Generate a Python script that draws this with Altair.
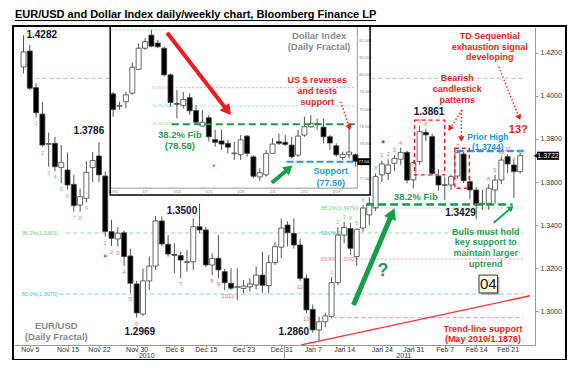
import math
import altair as alt
import pandas as pd

# ---------------------------------------------------------------- data
TITLE = "EUR/USD and Dollar Index daily/weekly chart, Bloomberg Finance LP"

# EUR/USD daily candles, trading-day index 0 = 4 Nov 2010 ... 79 = 23 Feb 2011
eur_open = [1.4135, 1.4209, 1.4039, 1.3916, 1.3775, 1.3780, 1.3667, 1.3656, 1.3589, 1.3493,
            1.3524, 1.3667, 1.3721, 1.3628, 1.3369, 1.3335, 1.3364, 1.3256, 1.3126, 1.2986,
            1.3140, 1.3209, 1.3419, 1.3310, 1.3263, 1.3258, 1.3226, 1.3229, 1.3392, 1.3377,
            1.3214, 1.3245, 1.3183, 1.3129, 1.3110, 1.3105, 1.3112, 1.3121, 1.3167, 1.3118,
            1.3225, 1.3297, 1.3400, 1.3361, 1.3307, 1.3152, 1.3008, 1.2912, 1.2950, 1.2975,
            1.3132, 1.3353, 1.3384, 1.3253, 1.3386, 1.3447, 1.3480, 1.3633, 1.3640, 1.3687,
            1.3706, 1.3738, 1.3610, 1.3695, 1.3831, 1.3811, 1.3628, 1.3584, 1.3586, 1.3628,
            1.3730, 1.3601, 1.3563, 1.3496, 1.3501, 1.3563, 1.3609, 1.3718, 1.3679, 1.3648]
eur_high = [1.4282, 1.4237, 1.4060, 1.3974, 1.3830, 1.3810, 1.3772, 1.3737, 1.3633, 1.3569,
            1.3698, 1.3740, 1.3786, 1.3650, 1.3425, 1.3390, 1.3375, 1.3290, 1.3140, 1.3197,
            1.3253, 1.3442, 1.3440, 1.3353, 1.3315, 1.3276, 1.3284, 1.3431, 1.3500, 1.3392,
            1.3268, 1.3353, 1.3195, 1.3199, 1.3199, 1.3144, 1.3152, 1.3206, 1.3276, 1.3260,
            1.3322, 1.3430, 1.3418, 1.3431, 1.3335, 1.3170, 1.3030, 1.2974, 1.2992, 1.3157,
            1.3390, 1.3415, 1.3410, 1.3385, 1.3493, 1.3530, 1.3640, 1.3700, 1.3705, 1.3725,
            1.3760, 1.3745, 1.3700, 1.3861, 1.3848, 1.3825, 1.3660, 1.3625, 1.3635, 1.3744,
            1.3740, 1.3625, 1.3575, 1.3563, 1.3590, 1.3633, 1.3718, 1.3730, 1.3705, 1.3735]
eur_low = [1.4105, 1.4028, 1.3900, 1.3765, 1.3672, 1.3650, 1.3595, 1.3565, 1.3462, 1.3462,
           1.3505, 1.3600, 1.3600, 1.3346, 1.3302, 1.3300, 1.3210, 1.3084, 1.2969, 1.2977,
           1.3098, 1.3191, 1.3300, 1.3253, 1.3175, 1.3152, 1.3183, 1.3191, 1.3361, 1.3204,
           1.3167, 1.3152, 1.3098, 1.3098, 1.3051, 1.3082, 1.3090, 1.3100, 1.3084, 1.3084,
           1.3214, 1.3245, 1.3300, 1.3290, 1.3140, 1.2990, 1.2900, 1.2860, 1.2925, 1.2966,
           1.3120, 1.3315, 1.3262, 1.3209, 1.3369, 1.3400, 1.3465, 1.3600, 1.3610, 1.3650,
           1.3680, 1.3594, 1.3570, 1.3680, 1.3790, 1.3630, 1.3560, 1.3516, 1.3563, 1.3615,
           1.3595, 1.3520, 1.3429, 1.3470, 1.3470, 1.3500, 1.3590, 1.3640, 1.3526, 1.3640]
eur_close = [1.4205, 1.4036, 1.3922, 1.3772, 1.3779, 1.3671, 1.3690, 1.3586, 1.3490, 1.3532,
             1.3645, 1.3700, 1.3633, 1.3370, 1.3338, 1.3362, 1.3253, 1.3129, 1.2991, 1.3140,
             1.3209, 1.3419, 1.3312, 1.3265, 1.3259, 1.3237, 1.3229, 1.3392, 1.3377, 1.3214,
             1.3245, 1.3191, 1.3132, 1.3106, 1.3113, 1.3116, 1.3126, 1.3167, 1.3120, 1.3225,
             1.3299, 1.3386, 1.3364, 1.3307, 1.3152, 1.3005, 1.2912, 1.2950, 1.2977, 1.3132,
             1.3353, 1.3389, 1.3292, 1.3380, 1.3479, 1.3501, 1.3625, 1.3684, 1.3679, 1.3710,
             1.3738, 1.3609, 1.3690, 1.3834, 1.3819, 1.3640, 1.3586, 1.3588, 1.3625, 1.3736,
             1.3606, 1.3563, 1.3493, 1.3501, 1.3571, 1.3609, 1.3702, 1.3684, 1.3648, 1.3722]

# Dollar Index daily candles (inset), index 0 = 31 Dec 2010 ... 38 = 23 Feb 2011
dxy_open = [79.46, 79.10, 79.23, 79.48, 80.17, 80.78, 81.16, 80.93, 80.78, 80.01,
            79.18, 79.13, 79.35, 78.98, 78.53, 78.77, 78.14, 78.10, 78.03, 77.73,
            77.70, 78.24, 77.64, 77.06, 77.12, 77.74, 78.08, 78.06, 77.98, 77.69,
            78.27, 78.51, 78.60, 78.50, 78.22, 77.96, 77.62, 77.70, 77.70]
dxy_high = [79.52, 79.23, 79.52, 80.36, 80.92, 81.07, 81.31, 81.02, 80.82, 80.05,
            79.57, 79.52, 79.48, 79.14, 78.99, 78.85, 78.42, 78.42, 78.13, 78.08,
            78.27, 78.27, 77.69, 77.31, 77.84, 78.18, 78.32, 78.27, 78.22, 78.42,
            78.80, 78.85, 78.75, 78.75, 78.27, 78.03, 77.79, 78.61, 77.74]
dxy_low = [78.80, 79.00, 79.04, 79.43, 80.15, 80.73, 80.82, 80.78, 79.96, 79.09,
           78.75, 79.04, 78.85, 78.56, 78.51, 78.08, 77.93, 77.84, 77.74, 77.55,
           77.55, 77.64, 77.02, 76.95, 77.07, 77.74, 77.98, 77.95, 77.60, 77.64,
           78.22, 78.47, 78.42, 78.03, 77.84, 77.64, 77.55, 77.60, 77.36]
dxy_close = [79.01, 79.12, 79.43, 80.23, 80.78, 80.97, 80.84, 80.82, 80.01, 79.21,
             79.16, 79.30, 78.97, 78.64, 78.64, 78.22, 78.06, 78.01, 77.92, 77.75,
             78.13, 77.74, 77.08, 77.18, 77.74, 78.01, 78.03, 78.00, 77.64, 78.24,
             78.51, 78.60, 78.58, 78.22, 78.04, 77.70, 77.71, 77.78, 77.51]

# axes
x_tick_days = [1, 7, 12, 18, 24, 29, 35, 41, 46, 51, 57, 62, 67, 72, 77]
x_tick_labels = ["Nov 5", "Nov 15", "Nov 22", "Nov 30", "Dec 8", "Dec 15", "Dec 23",
                 "Dec 31", "Jan 7", "Jan 14", "Jan 24", "Jan 31", "Feb 7", "Feb 14", "Feb 21"]
y_tick_values = [1.30, 1.32, 1.34, 1.36, 1.38, 1.40, 1.42]
year_days = [19.6, 60.5]
year_labels = ["2010", "2011"]
year_break_day = 41.5
last_price = 1.3722

dxy_tick_values = [77.0, 77.5, 78.0, 78.5, 79.0, 79.5, 80.0, 80.5, 81.0]
dxy_date_days = [0, 5, 10, 15, 20, 25, 30, 35]
dxy_date_labels = ["12/31", "1/7", "1/14", "1/21", "1/28", "2/4", "2/11", "2/18"]

# swing-point labels
swing_days = [2.9, 10.4, 18.5, 25.2, 43.0, 64.5, 69.5]
swing_values = [1.4282, 1.3786, 1.2969, 1.3500, 1.2860, 1.3861, 1.3429]
swing_label_at = [1.4284, 1.3837, 1.2904, 1.3467, 1.2904, 1.3924, 1.3454]

# TD sequential counts
td_buy_setup_days = [2, 3, 4, 5, 6, 7, 8, 9, 10]
td_buy_count_days = [13, 14, 15, 16, 17, 18, 25, 30, 31, 32, 33, 44, 45]
td_sell_setup_days = [49, 50, 51, 52, 53, 54, 55, 56]
td_sell_count_days = [57, 58, 59, 60, 63, 64, 69, 74, 75, 76, 77]
td_sell_setup2_days = [76, 78, 79]
td_sell_setup2_labels = ["3", "4", "5"]

# levels
td_risk_level = 1.4082
fib_long_levels = [1.3363, 1.3079]          # of May 2010 - Nov 2010 rally
fib_long_names = ["38.2%", "50.0%"]
fib_short_levels = [1.3479, 1.3361, 1.3242]  # of Jan - Feb 2011 rally
fib_short_names = ["38.2%", "50.0%", "61.8%"]
low_level = 1.2969
support_level = 1.3495
prior_high = 1.3744
trend_days = [44.2, 80.56]
trend_values = [1.2842, 1.3071]

dxy_fib_levels = [79.64, 79.11, 78.58]
dxy_fib_names = ["61.8%", "50.0%", "38.2%"]
dxy_top_level = 81.31
dxy_support = 77.50

# ---------------------------------------------------------------- layout
W, H = 521, 318
X_MIN, X_MAX = -0.718, 80.56
Y_MIN, Y_MAX = 1.28419, 1.43209
J_MIN, J_MAX = -14.769, 65.385
P_MIN, P_MAX = 72.202, 81.393
SX, SY = W / (X_MAX - X_MIN), H / (Y_MAX - Y_MIN)
SJ, SP = W / (J_MAX - J_MIN), H / (P_MAX - P_MIN)

FONT = "Liberation Sans"
RED = "#ee1c1c"
GREEN = "#1f9e57"
AGREEN = "#12a048"
BLUE = "#2496e6"
GRAY = "#8a8a8a"
NAVY = "#14142c"

XS = alt.Scale(domain=[X_MIN, X_MAX], nice=False, zero=False)
YS = alt.Scale(domain=[Y_MIN, Y_MAX], nice=False, zero=False)
JS = alt.Scale(domain=[J_MIN, J_MAX], nice=False, zero=False)
PS = alt.Scale(domain=[P_MIN, P_MAX], nice=False, zero=False)

label_expr = ("[" + ",".join(f"'{s}'" for s in x_tick_labels) + "][indexof(["
              + ",".join(str(d) for d in x_tick_days) + "], datum.value)]")
AXX = alt.Axis(values=x_tick_days, labelExpr=label_expr, title=None, grid=False,
               labelFont=FONT, labelFontSize=7, labelColor="#333333", labelPadding=-2,
               tickSize=2, tickColor="#999999", domainColor="#999999",
               labelOverlap=False, labelFlush=False, labelBound=False)
AXY = alt.Axis(values=y_tick_values, labelExpr="format(datum.value, '.4f')", title=None,
               grid=False, orient="right", labelFont=FONT, labelFontSize=7,
               labelColor="#333333", labelPadding=2, tickSize=3, tickColor="#999999",
               domainColor="#999999", labelOverlap=False, labelFlush=False)


def MX(f):
    return alt.X(f"{f}:Q", scale=XS, axis=AXX)


def MY(f):
    return alt.Y(f"{f}:Q", scale=YS, axis=AXY)


def IX(f):
    return alt.X(f"{f}:Q", scale=JS, axis=None)


def IY(f):
    return alt.Y(f"{f}:Q", scale=PS, axis=None)


def candles(o, h, l, c, X, Y):
    df = pd.DataFrame({"d": list(range(len(o))), "o": o, "h": h, "l": l, "c": c})
    df["fill"] = ["#ffffff" if cc >= oo else "#000000" for oo, cc in zip(o, c)]
    wick = alt.Chart(df).mark_rule(color="#555555", strokeWidth=1).encode(
        x=X("d"), y=Y("l"), y2="h")
    body = alt.Chart(df).mark_bar(size=5, stroke="#444444", strokeWidth=0.8).encode(
        x=X("d"), y=Y("o"), y2="c", fill=alt.Fill("fill:N", scale=None))
    return [wick, body]


def hseg(level, d0, d1, X, Y, color, width, dash=None):
    df = pd.DataFrame({"p": [level], "a": [d0], "b": [d1]})
    kw = dict(color=color, strokeWidth=width)
    if dash:
        kw["strokeDash"] = dash
    return alt.Chart(df).mark_rule(**kw).encode(x=X("a"), x2="b", y=Y("p"))


def box(d0, d1, p0, p1, X, Y, **style):
    df = pd.DataFrame({"a": [d0], "b": [d1], "c": [p0], "e": [p1]})
    return alt.Chart(df).mark_rect(**style).encode(x=X("a"), x2="b", y=Y("c"), y2="e")


def arrow(tail, tip, X, Y, sx, sy, color, width, head, dash=None):
    dxp = (tip[0] - tail[0]) * sx
    dyp = -(tip[1] - tail[1]) * sy
    L = math.hypot(dxp, dyp)
    ux, uy = dxp / L, dyp / L
    back = math.sqrt(head) * 0.42
    cx = tip[0] - ux * back / sx
    cy = tip[1] + uy * back / sy
    ang = math.degrees(math.atan2(dxp, -dyp)) % 360
    ldf = pd.DataFrame({"a": [tail[0], cx], "b": [tail[1], cy], "o": [0, 1]})
    kw = dict(color=color, strokeWidth=width)
    if dash:
        kw["strokeDash"] = dash
    line = alt.Chart(ldf).mark_line(**kw).encode(x=X("a"), y=Y("b"), order="o:Q")
    hdf = pd.DataFrame({"a": [cx], "b": [cy]})
    hd = alt.Chart(hdf).mark_point(shape="triangle-up", filled=True, color=color,
                                    size=head, angle=ang, opacity=1).encode(x=X("a"), y=Y("b"))
    return [line, hd]


def notes(rows, X, Y, sy, lh=11, weight="bold"):
    # rows give the centre of each text block; vega anchors the first line,
    # so move the anchor up by half of the extra lines
    fixed = []
    for t, a, b, col, fs in rows:
        n = t.count("\n")
        fixed.append((t, a, b + n * lh / 2 / sy, col, fs))
    df = pd.DataFrame(fixed, columns=["t", "a", "b", "col", "fs"])
    return alt.Chart(df).mark_text(font=FONT, fontWeight=weight, lineBreak="\n",
                                   lineHeight=lh, align="center", baseline="middle").encode(
        x=X("a"), y=Y("b"), text="t:N",
        color=alt.Color("col:N", scale=None), size=alt.Size("fs:Q", scale=None))


def small_labels(days, texts, values, X, Y, color, fs, dy=0, align="center"):
    df = pd.DataFrame({"a": days, "b": values, "t": texts})
    return alt.Chart(df).mark_text(font=FONT, fontSize=fs, color=color, dy=dy,
                                   align=align, baseline="middle").encode(
        x=X("a"), y=Y("b"), text="t:N")


# ---------------------------------------------------------------- main chart
main_layers = []
main_layers.append(hseg(td_risk_level, 1.9, 79.3, MX, MY, "#8fe08f", 1, [4, 3]))
main_layers.append(hseg(fib_long_levels[0], 6.8, 79.5, MX, MY, "#8fe08f", 1, [4, 3]))
main_layers.append(hseg(fib_long_levels[1], 5.7, 79.5, MX, MY, "#6adada", 1, [4, 3]))
main_layers.append(hseg(fib_short_levels[0], 53.0, 79.5, MX, MY, "#8fe08f", 1, [2, 2]))
main_layers.append(hseg(fib_short_levels[2], 53.0, 79.5, MX, MY, "#ff8fbf", 1, [2, 2]))
main_layers.append(hseg(low_level, 49.3, 79.5, MX, MY, "#ff8a8a", 1, [4, 3]))
trend_df = pd.DataFrame({"a": trend_days, "b": trend_values})
main_layers.append(alt.Chart(trend_df).mark_line(color="#ff3030", strokeWidth=1.3).encode(
    x=MX("a"), y=MY("b")))

fib_lbl_days = [-0.3, -0.3, 47.3, 47.3, 47.3]
fib_lbl_vals = fib_long_levels + fib_short_levels
fib_lbl_txt = [f"{n}({v:.4f})" for n, v in zip(fib_long_names + fib_short_names, fib_lbl_vals)]
fib_cols = ["#6ccf6c", "#3fc6c6", "#6ccf6c", "#3fc6c6", "#ff72aa"]
for d, v, t, col in zip(fib_lbl_days, fib_lbl_vals, fib_lbl_txt, fib_cols):
    main_layers.append(small_labels([d], [t], [v], MX, MY, col, 5.5, align="left"))

main_layers += candles(eur_open, eur_high, eur_low, eur_close, MX, MY)

main_layers.append(hseg(support_level, 54.5, 77.8, MX, MY, "#1a9a4a", 2.5, [8, 4]))
main_layers.append(hseg(prior_high, 68.9, 79.8, MX, MY, "#1e9be9", 2.5, [7, 3]))
main_layers.append(box(62.2, 67.0, 1.3633, 1.3888, MX, MY, fillOpacity=0, stroke=RED,
                       strokeWidth=1.4, strokeDash=[4, 3]))
main_layers.append(box(68.6, 70.9, 1.3571, 1.3757, MX, MY, fillOpacity=0, stroke=RED,
                       strokeWidth=1.4, strokeDash=[4, 3]))

# TD counts
main_layers.append(small_labels(td_buy_setup_days, [str(k + 1) for k in range(9)],
                                [eur_low[d] for d in td_buy_setup_days], MX, MY, "#6fd86f", 6, dy=6))
main_layers.append(small_labels(td_buy_count_days, [str(k + 1) for k in range(13)],
                                [eur_low[d] for d in td_buy_count_days], MX, MY, "#ff6a6a", 6, dy=6))
main_layers.append(small_labels(td_sell_setup_days, [str(k + 1) for k in range(8)],
                                [eur_high[d] for d in td_sell_setup_days], MX, MY, "#6fd86f", 6, dy=-5))
main_layers.append(small_labels(td_sell_count_days, [str(k + 1) for k in range(11)],
                                [eur_high[d] for d in td_sell_count_days], MX, MY, "#ff6a6a", 6, dy=-5))
main_layers.append(small_labels(td_sell_setup2_days, td_sell_setup2_labels,
                                [eur_high[d] for d in td_sell_setup2_days], MX, MY, "#6fd86f", 6, dy=0))

dots = pd.DataFrame({"a": [57.2, 13.0], "b": [1.3787, 1.3256], "col": ["#ee2222", "#22cc22"]})
main_layers.append(alt.Chart(dots).mark_point(filled=True, size=10, opacity=1).encode(
    x=MX("a"), y=MY("b"), color=alt.Color("col:N", scale=None)))

# swing values
sw = pd.DataFrame({"a": swing_days, "b": swing_label_at,
                   "t": [f"{v:.4f}" for v in swing_values]})
main_layers.append(alt.Chart(sw).mark_text(font=FONT, fontWeight="bold", fontSize=10,
                                           color=NAVY, baseline="middle").encode(
    x=MX("a"), y=MY("b"), text="t:N"))

main_notes = [
    ("TD Sequential\nexhaustion signal\ndeveloping", 74.17, 1.42293, RED, 9),
    ("Bearish\ncandlestick\npatterns", 69.0, 1.40326, RED, 9),
    ("13?", 78.7, 1.3842, RED, 11),
    ("Prior High\n(1.3744)", 73.85, 1.3786, BLUE, 8.5),
    ("38.2% Fib", 62.39, 1.35302, GREEN, 9.5),
    ("Bulls must hold\nkey support to\nmaintain larger\nuptrend", 73.54, 1.32942, GREEN, 9),
    ("?", 57.16, 1.3186, GREEN, 18),
    ("Trend-line support\n(May 2010/1.1876)", 73.07, 1.2893, RED, 9),
    ("EUR/USD\n(Daily Fractal)", 5.21, 1.29047, GRAY, 9.5),
]
main_layers.append(notes(main_notes, MX, MY, SY, lh=10.7))

main_layers += arrow((52.48, 1.30279), (58.99, 1.34777), MX, MY, SX, SY, AGREEN, 5, 170)
main_layers += arrow((74.79, 1.34107), (77.91, 1.34884), MX, MY, SX, SY, AGREEN, 1.8, 45)
main_layers += arrow((75.57, 1.41363), (79.0, 1.38884), MX, MY, SX, SY, RED, 1.4, 40, [1.5, 2])
main_layers += arrow((69.64, 1.39349), (69.64, 1.37874), MX, MY, SX, SY, RED, 1.4, 40, [1.5, 2])
main_layers += arrow((69.8, 1.3935), (67.57, 1.38386), MX, MY, SX, SY, RED, 1.4, 40, [1.5, 2])

# "04" box
main_layers.append(box(72.76, 75.71, 1.3075, 1.3158, MX, MY, color="#b0b0b0"))
main_layers.append(box(72.45, 75.4, 1.3084, 1.3167, MX, MY, fill="#ffffe4", stroke="#333333",
                       strokeWidth=1))
main_layers.append(notes([("04", 73.92, 1.3125, "#111111", 15)], MX, MY, SY, weight="normal"))

# year labels / separator
yl = pd.DataFrame({"a": year_days, "t": year_labels})
main_layers.append(alt.Chart(yl).mark_text(font=FONT, fontSize=7, color="#333333",
                                           baseline="middle").encode(
    x=MX("a"), y=alt.value(329.3), text="t:N"))
yb = pd.DataFrame({"a": [year_break_day]})
main_layers.append(alt.Chart(yb).mark_rule(color="#999999", strokeWidth=1).encode(
    x=MX("a"), y=alt.value(318), y2=alt.value(332)))

# last price tag
tag = pd.DataFrame({"p": [last_price], "hi": [last_price + 0.0019],
                    "lo": [last_price - 0.0019], "t": [f"{last_price:.4f}"]})
main_layers.append(alt.Chart(tag).mark_rect(color="#000000").encode(
    x=alt.value(523), x2=alt.value(545), y=MY("hi"), y2="lo"))
main_layers.append(alt.Chart(tag).mark_point(shape="triangle-left", filled=True,
                                             color="#000000", size=28, opacity=1).encode(
    x=alt.value(522), y=MY("p")))
main_layers.append(alt.Chart(tag).mark_text(font=FONT, fontSize=7, color="#ffffff",
                                            baseline="middle").encode(
    x=alt.value(534), y=MY("p"), text="t:N"))

main = alt.layer(*main_layers)

# ---------------------------------------------------------------- inset (Dollar Index)
inset_layers = []
inset_layers.append(box(-0.46, 40.3, 76.538, 81.42, IX, IY, fill="#ffffff"))
inset_layers.append(hseg(dxy_top_level, -0.4, 8.15, IX, IY, "#8fe08f", 1, [2, 2]))
inset_layers.append(hseg(dxy_fib_levels[0], 8.6, 38.0, IX, IY, "#ff9fc8", 1, [2, 2]))
inset_layers.append(hseg(dxy_fib_levels[1], 8.6, 38.0, IX, IY, "#8ae4ef", 1, [2, 2]))
for v, n, col in zip(dxy_fib_levels, dxy_fib_names, ["#ff8fbf", "#6adada", "#7fd67f"]):
    inset_layers.append(small_labels([6.15], [f"{n}({v:.2f})"], [v], IX, IY, col, 3.5,
                                     align="left"))
# inset axes
inset_layers.append(hseg(76.735, -0.46, 38.3, IX, IY, "#9a9a9a", 1))
ax_df = pd.DataFrame({"a": [38.3], "p0": [76.735], "p1": [P_MAX]})
inset_layers.append(alt.Chart(ax_df).mark_rule(color="#9a9a9a", strokeWidth=1).encode(
    x=IX("a"), y=IY("p0"), y2="p1"))
inset_layers.append(small_labels([38.6] * len(dxy_tick_values),
                                 [f"{v:.3f}" for v in dxy_tick_values], dxy_tick_values,
                                 IX, IY, "#888888", 4, align="left"))
inset_layers.append(small_labels(dxy_date_days, dxy_date_labels, [76.62] * len(dxy_date_days),
                                 IX, IY, "#888888", 4))

inset_layers += candles(dxy_open, dxy_high, dxy_low, dxy_close, IX, IY)

inset_layers.append(hseg(dxy_fib_levels[2], 9.2, 38.0, IX, IY, "#1a9a4a", 2, [7, 4]))
inset_layers.append(hseg(dxy_support, 27.2, 38.0, IX, IY, "#1e9be9", 2, [7, 3]))
idot = pd.DataFrame({"a": [15.8], "b": [77.38]})
inset_layers.append(alt.Chart(idot).mark_point(filled=True, size=6, color="#44cc44",
                                               opacity=1).encode(x=IX("a"), y=IY("b")))

itag = pd.DataFrame({"hi": [dxy_support + 0.1], "lo": [dxy_support - 0.1], "p": [dxy_support],
                     "t": [f"{dxy_support:.3f}"], "a0": [38.3], "a1": [40.4], "a2": [38.5]})
inset_layers.append(alt.Chart(itag).mark_rect(color="#000000").encode(
    x=IX("a0"), x2="a1", y=IY("hi"), y2="lo"))
inset_layers.append(alt.Chart(itag).mark_text(font=FONT, fontSize=4, color="#ffffff",
                                              baseline="middle", align="left").encode(
    x=IX("a2"), y=IY("p"), text="t:N"))

inset_notes = [
    ("Dollar Index\n(Daily Fractal)", 32.3, 80.983, GRAY, 9.5),
    ("US $ reverses\nand tests\nsupport", 32.0, 79.546, RED, 9),
    ("38.2% Fib\n(78.58)", 10.46, 78.113, GREEN, 9.5),
    ("Support\n(77.50)", 34.15, 77.058, BLUE, 9),
]
inset_layers.append(notes(inset_notes, IX, IY, SP, lh=11.2))

inset_layers += arrow((8.46, 81.228), (18.46, 78.85), IX, IY, SJ, SP, RED, 4, 150)
inset_layers += arrow((24.88, 76.893), (28.11, 77.384), IX, IY, SJ, SP, AGREEN, 4, 110)
inset_layers += arrow((35.69, 79.234), (37.18, 78.416), IX, IY, SJ, SP, RED, 1.4, 40, [1.5, 2])

inset_layers.append(box(-0.46, 40.3, 76.538, 81.42, IX, IY, fillOpacity=0, stroke="#000000",
                        strokeWidth=1.5))
inset = alt.layer(*inset_layers)

# ---------------------------------------------------------------- decoration
tdf = pd.DataFrame({"t": [TITLE]})
title = alt.Chart(tdf).mark_text(font=FONT, fontWeight="bold", fontSize=11, color="#000000",
                                 align="left", baseline="alphabetic").encode(
    x=alt.value(1), y=alt.value(-9), text="t:N")
underline = alt.Chart(tdf).mark_rule(color="#000000", strokeWidth=1).encode(
    x=alt.value(1), x2=alt.value(362), y=alt.value(-6.5))
frame = alt.Chart(tdf).mark_rect(fillOpacity=0, stroke="#000000", strokeWidth=2).encode(
    x=alt.value(-1), x2=alt.value(552), y=alt.value(-1), y2=alt.value(333))
deco = alt.layer(title, underline, frame)

chart = alt.layer(main, inset, deco).resolve_scale(
    x="independent", y="independent"
).properties(
    width=W, height=H,
    padding={"left": 6, "top": 19, "right": 37, "bottom": 15},
    autosize=alt.AutoSizeParams(type="none"),
).configure_view(stroke=None)

chart.save("out.html", embed_options={"renderer": "svg", "actions": False})
